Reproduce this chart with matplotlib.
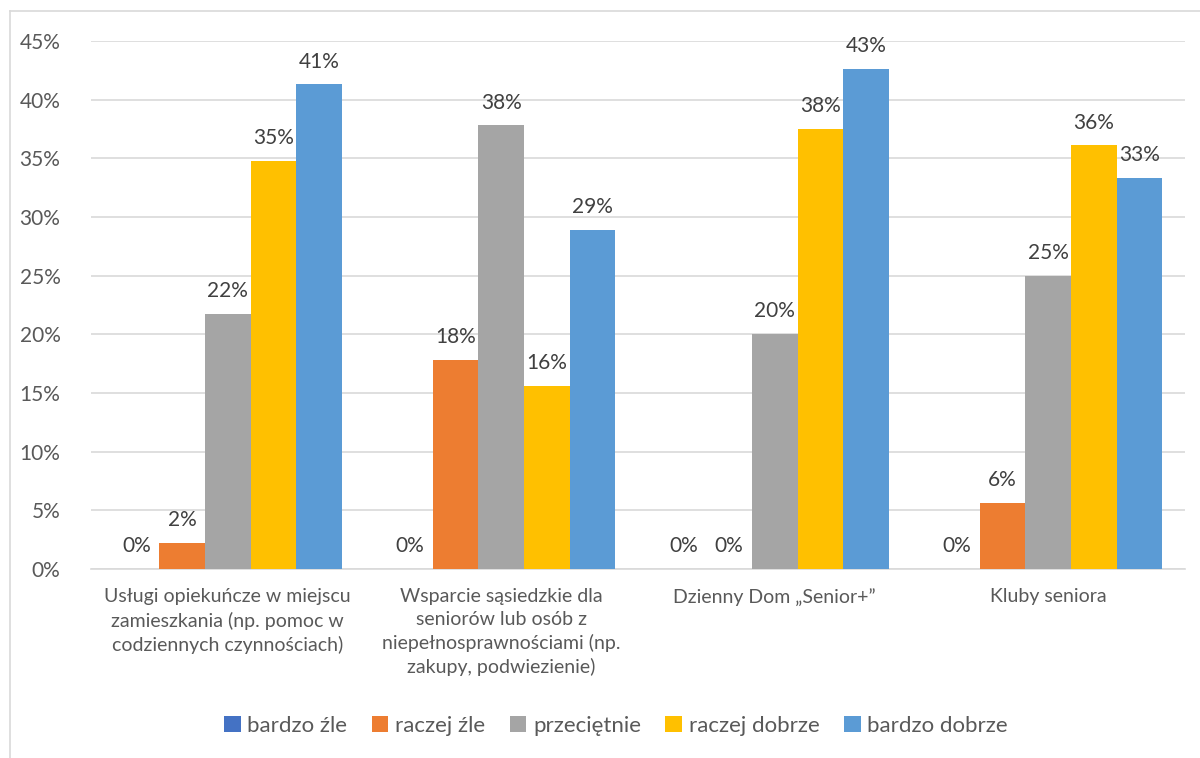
import matplotlib
matplotlib.use("Agg")
import matplotlib.pyplot as plt
from matplotlib.lines import Line2D
from matplotlib.patches import Patch
import numpy as np

plt.rcParams['font.family'] = ['Lato', 'DejaVu Sans']

categories = [
    "Usługi opiekuńcze w miejscu\nzamieszkania (np. pomoc w\ncodziennych czynnościach)",
    "Wsparcie sąsiedzkie dla\nseniorów lub osób z\nniepełnosprawnościami (np.\nzakupy, podwiezienie)",
    "Dzienny Dom „Senior+”",
    "Kluby seniora",
]
series_names = ["bardzo źle", "raczej źle", "przeciętnie", "raczej dobrze", "bardzo dobrze"]
bardzo_zle = [0.0, 0.0, 0.0, 0.0]
raczej_zle = [2.2, 17.8, 0.0, 5.6]
przecietnie = [21.7, 37.8, 20.0, 25.0]
raczej_dobrze = [34.8, 15.6, 37.5, 36.1]
bardzo_dobrze = [41.3, 28.9, 42.6, 33.3]
yticks = [0, 5, 10, 15, 20, 25, 30, 35, 40, 45]
ytick_labels = [f"{t}%" for t in yticks]

colors = ["#4472C4", "#ED7D31", "#A5A5A5", "#FFC000", "#5B9BD5"]
data = [bardzo_zle, raczej_zle, przecietnie, raczej_dobrze, bardzo_dobrze]

fig = plt.figure(figsize=(12, 7.58), dpi=100)
ax = fig.add_axes([91/1200, 1-569/758, (1185-91)/1200, (569-41)/758])

x = np.arange(len(categories))
bw = 1/6
for i, (vals, col, name) in enumerate(zip(data, colors, series_names)):
    pos = x + (i - 2) * bw
    ax.bar(pos, vals, width=bw, color=col, label=name, zorder=3)
    for p, v in zip(pos, vals):
        ax.text(p, v + 1.1, f"{int(v + 0.5)}%", ha='center', va='bottom',
                fontsize=15, color='#404040', zorder=4)

ax.set_xlim(-0.5, len(categories) - 0.5)
ax.set_ylim(0, 45)
ax.set_yticks(yticks)
ax.set_yticklabels(ytick_labels, fontsize=15, color='#595959')
ax.yaxis.grid(True, color='#D9D9D9', linewidth=1.2, zorder=0)
ax.set_axisbelow(True)
for s in ['top', 'right', 'left']:
    ax.spines[s].set_visible(False)
ax.spines['bottom'].set_color('#D9D9D9')
ax.spines['bottom'].set_linewidth(1.2)
ax.tick_params(axis='y', length=0, pad=22)
ax.tick_params(axis='x', length=0, pad=14)
ax.set_xticks(x)
ax.set_xticklabels(categories, fontsize=14, color='#595959', linespacing=1.4)

handles = [Patch(facecolor=c) for c in colors]
fig.legend(handles, series_names, loc='center', bbox_to_anchor=(616/1200, 1-726/758),
           ncol=5, frameon=False, fontsize=16, labelcolor='#595959',
           handlelength=0.75, handleheight=0.75, handletextpad=0.3, columnspacing=1.1)

fig.add_artist(Line2D([10/1200, 10/1200], [0, 1-11/758], transform=fig.transFigure,
                      color='#D9D9D9', linewidth=1.2))
fig.add_artist(Line2D([10/1200, 1], [1-11/758, 1-11/758], transform=fig.transFigure,
                      color='#D9D9D9', linewidth=1.2))

fig.savefig("out.png", dpi=100)
